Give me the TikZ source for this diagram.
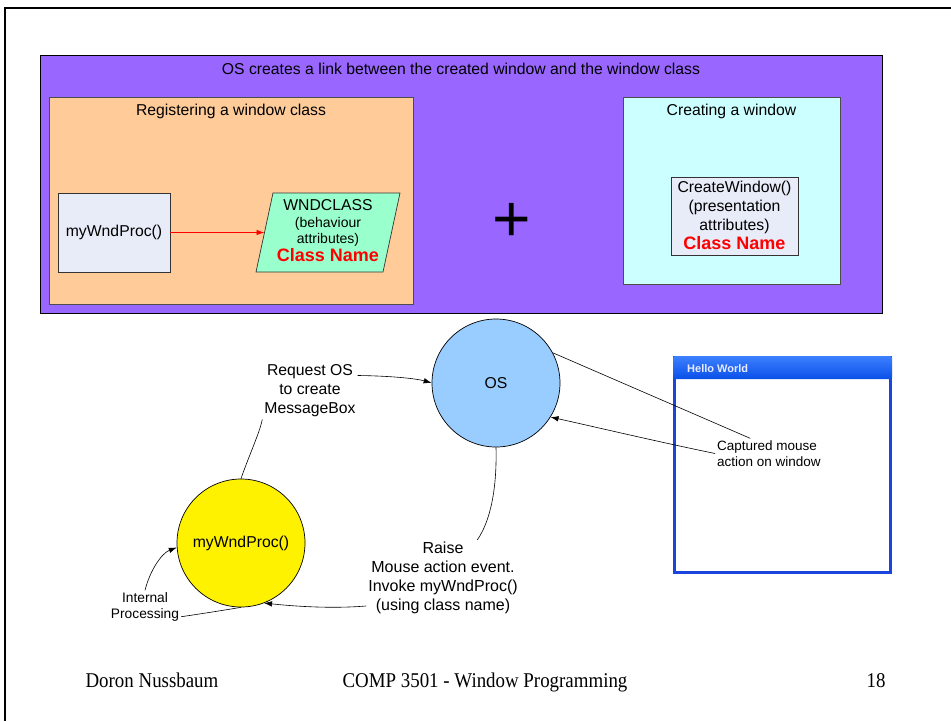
\documentclass[tikz,border=0pt]{standalone}
\usepackage{graphicx}
\usepackage{fontspec}
\setmainfont{Liberation Sans}
\newfontfamily\seriffont{Liberation Serif}
\usetikzlibrary{arrows.meta}
\definecolor{purp}{HTML}{9966FF}
\definecolor{orng}{HTML}{FFCC99}
\definecolor{lav}{HTML}{E8ECF8}
\definecolor{mint}{HTML}{99FFCC}
\definecolor{cyanbg}{HTML}{CCFFFF}
\definecolor{osblue}{HTML}{99CCFF}
\definecolor{winblue}{HTML}{1A45DD}
\definecolor{bartop}{HTML}{3D80FF}
\definecolor{barbot}{HTML}{0A50E8}
\newcommand{\mainsz}{\fontsize{15.75}{19}\selectfont}
\newcommand{\cnsz}{\fontsize{18}{19}\selectfont\bfseries\color{red}}
\tikzset{
  container/.style={draw=black!70, line width=0.7pt, inner sep=0pt},
  smallbox/.style={draw=black!80, line width=0.7pt, fill=lav, inner sep=0pt},
  txt/.style={font=\mainsz, inner sep=2pt},
  circ/.style={circle, draw=black, line width=0.7pt, inner sep=0pt, minimum size=128pt, font=\mainsz},
  conn/.style={draw=black, line width=0.6pt},
  arr/.style={conn, -{Latex[length=8pt,width=5.5pt]}},
  footer/.style={font=\seriffont\fontsize{21}{22}\selectfont, anchor=base, inner sep=0pt}
}
\begin{document}
\begin{tikzpicture}[x=1pt,y=-1pt]
\useasboundingbox (0,0) rectangle (951,721);
% slide frame
\draw[line width=2.5pt] (4,8) -- (951,8);
\draw[line width=2.5pt] (5,8) -- (5,721);

% top panel
\node[container, draw=black, fill=purp, minimum width=842pt, minimum height=258pt] (outer) at (461,184) {};
\node[txt] (outertitle) at (461,69) {OS creates a link between the created window and the window class};

\node[container, fill=orng, minimum width=364pt, minimum height=207pt] (reg) at (231,200.5) {};
\node[txt] (regtitle) at (231,111) {Registering a window class};
\node[smallbox, minimum width=112pt, minimum height=79pt, font=\mainsz] (myproc) at (114,232.5) {myWndProc()};
\draw[draw=black!80, line width=0.7pt, fill=mint] (273,193) -- (400,193) -- (383,272) -- (256,272) -- cycle;
\node[txt, align=center, font=\fontsize{15.75}{18}\selectfont] (wndclass) at (328,231) {WNDCLASS\\[-1pt]{\fontsize{14}{16}\selectfont (behaviour}\\[-2pt]{\fontsize{14}{16}\selectfont attributes)}\\{\cnsz Class Name}};
\coordinate (wcleft) at (264.5,232.5);
\draw[arr, draw=red, line width=0.8pt] (myproc.east) -- (wcleft);

\node[font=\fontsize{66}{66}\selectfont, inner sep=0pt, anchor=base] (plus) at (512,241) {+};

\node[container, fill=cyanbg, minimum width=217pt, minimum height=187pt] (create) at (731.5,190.5) {};
\node[txt] (createtitle) at (731.5,111) {Creating a window};
\node[smallbox, minimum width=127pt, minimum height=78pt] (cw) at (734.5,216) {};
\node[txt, align=center, font=\fontsize{15.75}{19}\selectfont] (cwtext) at (734.5,215) {CreateWindow()\\(presentation\\attributes)\\{\cnsz Class Name}};

% lower part
\node[circ, fill=osblue] (os) at (496,383) {OS};
\node[circ, fill=yellow] (yproc) at (241,543) {myWndProc()};

\node[txt, align=center] (req) at (310,391) {Request OS\\to create\\MessageBox};
\node[txt, align=center, font=\fontsize{16}{19}\selectfont] (raise) at (443,578) {Raise\\Mouse action event.\\Invoke myWndProc()\\(using class name)};
\node[align=center, font=\fontsize{13.75}{16}\selectfont, inner sep=2pt] (internal) at (145,607) {Internal\\Processing};

% Hello World window
\node[draw=winblue, line width=3pt, minimum width=216pt, minimum height=215pt, inner sep=0pt, fill=white] (hello) at (782.5,465) {};
\node[top color=bartop, bottom color=barbot, rounded corners=2pt, minimum width=219pt, minimum height=23pt, inner sep=0pt] (bar) at (782.5,367.5) {};
\node[anchor=west, text=white!92!blue, font=\fontsize{11}{12}\selectfont\bfseries, inner sep=0pt] (hwtitle) at (687,369) {Hello World};
\node[anchor=west, align=left, font=\fontsize{13.5}{16}\selectfont, inner sep=2pt] (captured) at (715,453.5) {Captured mouse\\action on window};

% connectors
\draw[conn] (yproc.north) .. controls (248,458) and (260,432) .. (req.south west);
\draw[arr] (req.18) .. controls (395,376) and (418,379) .. (os.west);
\draw[conn] (os.south) .. controls (497,487) and (491,520) .. (raise.48);
\draw[arr] (raise.200) .. controls (330,609) and (292,606) .. (yproc.-69);
\draw[conn] (internal.-15) .. controls (200,614) and (225,610) .. (yproc.south);
\draw[arr] (internal.north) .. controls (150,570) and (162,553) .. (yproc.184);
\draw[conn] (os.28) -- (captured.141);
\draw[arr] (captured.west) .. controls (650,440) and (600,428) .. (os.-32);

% footer
\node[footer] (author) at (152,687) {\scalebox{0.9}[1]{Doron Nussbaum}};
\node[footer] (course) at (485,687) {\scalebox{0.9}[1]{COMP 3501 - Window Programming}};
\node[footer] (page) at (876,687) {\scalebox{0.9}[1]{18}};
\end{tikzpicture}
\end{document}
